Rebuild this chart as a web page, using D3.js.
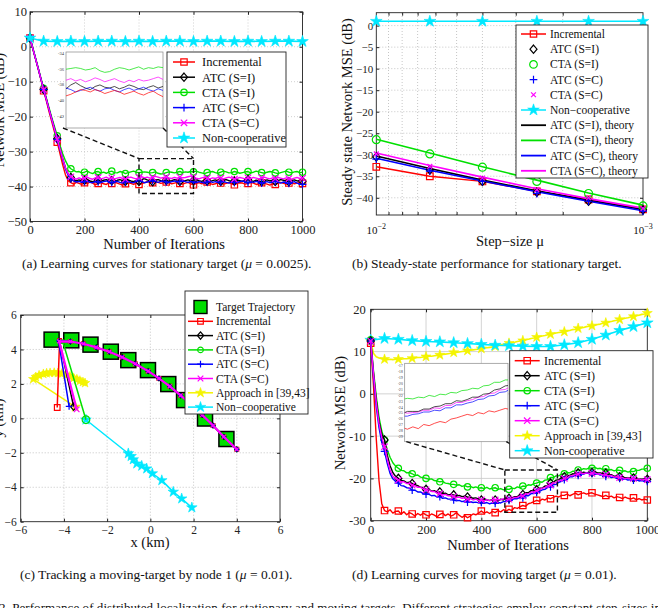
<!DOCTYPE html>
<html>
<head>
<meta charset="utf-8">
<script src="https://cdn.jsdelivr.net/npm/d3@7"></script>
<style>
  body { margin: 0; background: #fff; }
  svg { display: block; font-family: "Liberation Serif", "Times New Roman", serif; }
</style>
</head>
<body>
<svg id="fig" width="658" height="608"></svg>
<script>
// ---------- data: (a) learning curves, stationary target ----------
const iter10 = d3.range(0, 1001, 10);
const iter50 = d3.range(0, 1001, 50);

const incA = [2.5, -0.5, -3.4, -6.3, -9.4, -12.6, -15.5, -18.6, -21.5, -24.4,
  -27.3, -30.6, -33.8, -36.6, -38.3, -38.9, -39.3, -38.8, -39.1, -39.4,
  -38.9, -39.2, -38.7, -39.0, -39.5, -39.1, -38.8, -39.2, -39.4, -38.9,
  -39.1, -38.7, -39.0, -39.3, -39.6, -39.2, -38.9, -39.1, -39.4, -39.0,
  -39.4, -39.2, -38.9, -38.6, -38.7, -38.9, -38.6, -38.8, -39.1, -38.9,
  -38.7, -38.9, -39.2, -39.0, -38.8, -39.1, -39.3, -39.0, -38.8, -39.2,
  -39.5, -39.1, -38.9, -39.2, -39.0, -38.7, -39.1, -39.4, -39.2, -38.9,
  -39.0, -39.3, -39.1, -38.8, -39.2, -39.5, -39.1, -38.9, -39.0, -39.3,
  -39.1, -38.8, -39.0, -39.4, -39.2, -38.9, -39.1, -39.3, -39.6, -39.2,
  -39.4, -39.0, -38.8, -39.1, -39.3, -39.0, -38.9, -39.2, -39.0, -38.8,
  -39.1];
const ctaIA = [2.5, -0.3, -3.1, -6.0, -9.0, -11.9, -14.7, -17.5, -20.3, -22.9,
  -25.5, -28.2, -30.6, -32.6, -34.1, -34.9, -35.4, -35.8, -35.7, -36.1,
  -35.9, -35.6, -36.0, -36.3, -35.8, -35.7, -36.1, -35.9, -36.2, -35.8,
  -35.6, -36.0, -36.1, -35.7, -35.9, -36.3, -36.0, -35.8, -35.6, -35.9,
  -36.0, -35.9, -35.8, -35.9, -36.1, -36.0, -35.8, -36.2, -36.4, -36.3,
  -36.0, -35.8, -35.9, -36.1, -35.9, -35.7, -36.0, -35.8, -35.9, -35.7,
  -35.8, -35.6, -35.9, -36.1, -36.3, -36.0, -35.8, -35.7, -36.0, -36.2,
  -35.9, -35.6, -35.8, -36.1, -36.0, -35.7, -35.9, -36.2, -36.0, -35.8,
  -35.7, -36.1, -35.9, -35.6, -35.8, -36.0, -36.2, -35.9, -35.7, -35.8,
  -36.1, -36.3, -36.0, -35.8, -35.6, -35.9, -36.1, -35.8, -35.7, -36.0,
  -35.9];
const atcIA = [2.5, -0.4, -3.3, -6.2, -9.2, -12.2, -15.0, -17.9, -20.7, -23.5,
  -26.3, -29.2, -32.0, -34.6, -36.4, -37.4, -38.0, -38.4, -38.1, -38.5,
  -38.2, -38.0, -38.4, -38.6, -38.3, -38.1, -38.5, -38.2, -38.0, -38.4,
  -38.3, -38.6, -38.2, -38.0, -38.3, -38.5, -38.1, -38.4, -38.6, -38.2,
  -38.5, -38.0, -37.7, -38.1, -38.4, -38.6, -38.2, -38.0, -38.3, -38.4,
  -38.2, -38.5, -38.3, -38.0, -38.2, -38.5, -38.6, -38.3, -38.1, -38.4,
  -38.2, -38.0, -38.3, -38.5, -38.2, -38.4, -38.6, -38.3, -38.1, -38.4,
  -38.5, -38.2, -38.0, -38.3, -38.6, -38.4, -38.1, -38.3, -38.5, -38.2,
  -38.0, -38.3, -38.5, -38.2, -38.4, -38.6, -38.3, -38.1, -38.4, -38.2,
  -38.5, -38.3, -38.0, -38.2, -38.4, -38.6, -38.3, -38.1, -38.4, -38.3,
  -38.5];
const atcCA = [2.5, -0.4, -3.3, -6.2, -9.2, -12.2, -15.1, -18.0, -20.8, -23.6,
  -26.5, -29.4, -32.3, -34.9, -36.8, -37.8, -38.4, -38.7, -38.5, -38.8,
  -38.6, -38.4, -38.8, -38.9, -38.5, -38.7, -38.9, -38.6, -38.4, -38.7,
  -38.9, -38.6, -38.5, -38.8, -39.0, -38.7, -38.5, -38.8, -38.9, -38.6,
  -38.4, -38.6, -38.9, -38.7, -38.5, -38.3, -38.6, -38.8, -38.5, -38.4,
  -38.7, -38.9, -38.6, -38.4, -38.7, -38.5, -38.3, -38.6, -38.8, -38.5,
  -38.7, -38.9, -38.6, -38.8, -39.0, -38.7, -38.5, -38.8, -38.6, -38.9,
  -38.7, -38.5, -38.8, -39.0, -38.6, -38.8, -38.9, -38.6, -38.4, -38.7,
  -38.9, -38.6, -38.8, -38.5, -38.7, -39.0, -38.8, -38.6, -38.9, -38.7,
  -38.5, -38.8, -39.0, -38.7, -38.9, -39.1, -38.8, -38.6, -39.0, -39.3,
  -39.4];
const ctaCA = [2.5, -0.4, -3.3, -6.2, -9.2, -12.3, -15.1, -18.0, -20.8, -23.6,
  -26.4, -29.2, -32.0, -34.6, -36.3, -37.2, -37.6, -37.9, -37.5, -37.8,
  -37.6, -37.3, -37.7, -37.9, -37.5, -37.4, -37.8, -37.6, -37.3, -37.7,
  -37.5, -37.8, -37.6, -37.4, -37.7, -37.9, -37.5, -37.3, -37.6, -37.8,
  -37.4, -37.2, -37.5, -37.3, -37.6, -37.4, -37.1, -37.3, -37.6, -37.4,
  -37.2, -37.5, -37.7, -37.4, -37.6, -37.3, -37.5, -37.4, -37.2, -37.0,
  -37.3, -37.6, -37.8, -37.5, -37.3, -37.6, -37.8, -37.5, -37.7, -37.4,
  -37.6, -37.8, -37.5, -37.3, -37.6, -37.9, -37.7, -37.4, -37.6, -37.8,
  -37.5, -37.7, -37.4, -37.6, -37.8, -37.5, -37.3, -37.6, -37.8, -37.5,
  -37.7, -37.4, -37.6, -37.8, -37.5, -37.7, -37.9, -37.6, -37.4, -37.7,
  -37.6];
const noncA = [2.5, 1.6, 1.5, 1.6, 1.5, 1.6, 1.6, 1.5, 1.6, 1.5, 1.6,
  1.6, 1.5, 1.6, 1.6, 1.5, 1.6, 1.5, 1.6, 1.6, 1.5];

// ---------- data: (b) steady state vs step size ----------
const muB = [0.01, 0.0063, 0.004, 0.0025, 0.0016, 0.001];
const incB = [-32.8, -35.0, -36.2, -38.5, -40.4, -42.7];
const atcIB = [-30.5, -33.5, -36.2, -38.7, -40.8, -42.8];
const ctaIB = [-26.5, -29.8, -32.9, -36.2, -39.0, -41.9];
const atcCB = [-31.0, -33.8, -36.2, -39.0, -40.8, -43.1];
const ctaCB = [-29.8, -32.7, -35.4, -38.1, -40.0, -42.5];
const noncB = [1.0, 1.0, 1.0, 1.0, 1.0, 1.0];
const atcIT = [-30.3, -33.2, -35.9, -38.4, -40.6, -42.7];
const ctaIT = [-26.4, -29.6, -32.8, -35.9, -38.9, -41.7];
const atcCT = [-30.8, -33.6, -36.1, -38.6, -40.8, -43.0];
const ctaCT = [-29.6, -32.5, -35.2, -37.9, -40.2, -42.4];

// ---------- data: (c) tracking, node 1 ----------
const trajX = [-4.57, -3.66, -2.77, -1.83, -1.02, -0.11, 0.83, 1.56, 2.53, 3.52];
const trajY = [4.57, 4.53, 4.28, 3.87, 3.38, 2.80, 1.99, 1.06, -0.01, -1.20];
const trackX = [-3.7, -3.1, -2.5, -1.9, -1.3, -0.7, -0.1, 0.4, 0.9, 1.4, 1.9, 2.4, 2.9, 3.4, 4.0];
const trackY = [4.46, 4.33, 4.12, 3.87, 3.55, 3.17, 2.74, 2.32, 1.86, 1.33, 0.78, 0.20, -0.42, -1.07, -1.80];
const incStartX = [-4.31, -4.20], incStartY = [0.63, 4.52];
const atcIStartX = [-3.55, -4.20], atcIStartY = [0.68, 4.45];
const ctaIStartX = [-2.98, -4.05], ctaIStartY = [-0.08, 4.45];
const atcCStartX = [-3.76, -4.25], atcCStartY = [0.70, 4.50];
const ctaCStartX = [-3.41, -4.22], ctaCStartY = [0.52, 4.47];
const apprX = [-3.47, -5.42, -5.30, -5.15, -4.95, -4.80, -4.64, -4.45, -4.28, -4.10, -3.90, -3.72, -3.55, -3.40, -3.26, -3.12, -3.02];
const apprY = [0.67, 2.28, 2.40, 2.50, 2.58, 2.62, 2.64, 2.65, 2.63, 2.60, 2.52, 2.44, 2.35, 2.27, 2.19, 2.11, 2.05];
const noncCX = [-2.98, -1.02, -0.89, -0.79, -0.63, -0.40, -0.17, 0.09, 0.53, 1.06, 1.45, 1.92];
const noncCY = [-0.08, -2.04, -2.20, -2.39, -2.63, -2.76, -2.92, -3.20, -3.60, -4.27, -4.66, -5.18];

// ---------- data: (d) learning curves, moving target ----------
const incD = [12.0, 2.0, -10.5, -20.5, -26.0, -27.6, -27.9, -27.4, -28.2, -27.8,
  -27.7, -28.4, -27.9, -28.6, -28.1, -28.4, -28.9, -28.3, -28.7, -28.2,
  -28.6, -28.9, -28.4, -28.7, -29.1, -28.5, -28.2, -28.8, -28.4, -28.9,
  -28.6, -28.1, -28.7, -29.2, -28.8, -29.3, -28.9, -28.4, -28.6, -28.2,
  -27.7, -28.2, -27.9, -28.3, -27.8, -28.1, -27.6, -27.9, -27.4, -27.7,
  -27.3, -27.6, -26.9, -27.1, -26.7, -26.4, -26.6, -26.0, -25.8, -25.5,
  -25.2, -25.4, -24.9, -25.1, -24.6, -24.8, -24.5, -24.2, -24.4, -24.0,
  -24.0, -23.7, -24.1, -23.8, -23.5, -23.9, -23.6, -23.4, -23.7, -23.5,
  -23.4, -23.7, -23.9, -24.1, -24.3, -24.0, -24.4, -24.2, -24.6, -24.3,
  -24.5, -24.8, -24.4, -24.7, -24.9, -24.6, -25.0, -24.8, -25.1, -24.9,
  -25.1];
const ctaID = [12.8, 5.5, -0.5, -5.5, -8.8, -10.9, -13.2, -15.0, -16.3, -17.1,
  -17.6, -18.1, -18.2, -18.7, -18.6, -18.9, -19.3, -19.2, -19.7, -19.8,
  -20.0, -20.2, -20.1, -20.5, -20.6, -20.8, -20.7, -21.1, -21.2, -21.4,
  -21.4, -21.6, -21.5, -21.9, -21.7, -22.0, -21.9, -22.2, -22.0, -22.3,
  -22.2, -22.4, -22.1, -22.5, -22.3, -22.2, -22.6, -22.4, -22.7, -22.5,
  -22.6, -22.3, -22.4, -22.0, -22.2, -21.8, -21.9, -21.5, -21.6, -21.2,
  -21.1, -20.8, -20.9, -20.4, -20.3, -19.8, -19.8, -19.4, -19.4, -19.0,
  -18.9, -18.6, -18.7, -18.3, -18.3, -18.0, -18.0, -17.7, -17.8, -17.5,
  -17.6, -17.4, -17.7, -17.6, -17.9, -17.7, -18.0, -17.9, -18.2, -18.0,
  -18.1, -18.3, -18.2, -18.5, -18.3, -18.4, -18.1, -18.1, -17.8, -17.8,
  -17.6];
const atcID = [12.5, 5.0, -1.5, -6.5, -9.5, -10.9, -14.5, -17.0, -18.6, -19.5,
  -20.0, -20.5, -20.6, -21.0, -20.9, -21.2, -21.5, -21.7, -22.1, -22.2,
  -22.6, -22.6, -23.0, -22.9, -23.3, -23.2, -23.6, -23.5, -23.9, -23.8,
  -23.9, -24.2, -24.0, -24.3, -24.2, -24.4, -24.5, -24.7, -24.6, -24.9,
  -25.1, -24.8, -25.1, -25.2, -25.0, -25.1, -25.3, -24.9, -25.1, -24.7,
  -24.7, -24.7, -24.3, -24.3, -23.9, -23.8, -23.4, -23.4, -22.9, -23.0,
  -22.7, -22.3, -22.3, -21.8, -21.7, -21.1, -20.9, -20.4, -20.3, -19.8,
  -19.6, -19.3, -19.3, -18.9, -19.0, -18.7, -18.8, -18.5, -18.7, -18.5,
  -18.6, -18.4, -18.7, -18.7, -18.9, -18.8, -19.2, -19.1, -19.5, -19.4,
  -19.6, -19.6, -19.9, -19.8, -20.1, -19.9, -20.2, -20.1, -20.2, -20.1,
  -20.2];
const atcCD = [12.5, 4.0, -3.0, -8.0, -11.5, -13.6, -16.5, -18.8, -20.1, -20.7,
  -21.1, -21.7, -21.8, -22.2, -22.3, -22.8, -22.8, -23.2, -23.2, -23.6,
  -23.7, -23.7, -24.1, -24.0, -24.4, -24.3, -24.7, -24.6, -24.9, -24.9,
  -25.1, -25.3, -25.2, -25.5, -25.3, -25.6, -25.5, -25.7, -25.6, -25.8,
  -25.7, -25.9, -25.7, -26.0, -25.8, -25.9, -25.7, -25.8, -25.5, -25.5,
  -25.2, -25.1, -24.8, -24.8, -24.5, -24.6, -24.1, -24.1, -23.6, -23.6,
  -23.3, -23.1, -22.7, -22.6, -22.1, -22.0, -21.5, -21.4, -20.9, -20.7,
  -20.3, -20.1, -19.6, -19.6, -19.2, -19.3, -18.9, -19.0, -18.7, -18.9,
  -18.8, -19.0, -18.9, -19.2, -19.1, -19.5, -19.4, -19.8, -19.7, -20.0,
  -20.0, -20.2, -20.1, -20.4, -20.2, -20.4, -20.3, -20.6, -20.5, -20.7,
  -20.7];
const ctaCD = [12.5, 4.8, -2.0, -7.0, -10.3, -12.5, -15.5, -18.0, -19.5, -20.1,
  -20.4, -20.8, -20.8, -21.2, -21.2, -21.6, -21.7, -22.1, -22.1, -22.5,
  -22.7, -22.7, -23.1, -23.1, -23.5, -23.6, -23.9, -23.8, -24.1, -24.1,
  -24.3, -24.5, -24.4, -24.7, -24.6, -24.9, -24.8, -25.1, -24.9, -25.2,
  -25.1, -25.3, -25.0, -25.3, -25.0, -25.1, -25.0, -25.1, -24.8, -25.0,
  -24.9, -24.8, -24.5, -24.5, -24.1, -24.2, -23.7, -23.7, -23.2, -23.2,
  -22.9, -22.7, -22.3, -22.2, -21.7, -21.6, -21.1, -21.0, -20.5, -20.4,
  -20.0, -19.9, -19.4, -19.4, -19.0, -19.0, -18.7, -18.9, -18.7, -18.8,
  -18.8, -18.7, -19.0, -18.9, -19.2, -19.1, -19.4, -19.3, -19.7, -19.6,
  -19.8, -19.8, -20.1, -19.9, -20.2, -20.0, -20.3, -20.1, -20.4, -20.2,
  -20.3];
const apprD = [12.5, 9.6, 8.8, 8.5, 8.3, 8.2, 8.1, 8.2, 8.1, 8.2,
  8.2, 8.2, 8.3, 8.3, 8.4, 8.4, 8.5, 8.6, 8.6, 8.7,
  8.8, 8.9, 8.9, 9.0, 9.1, 9.2, 9.3, 9.4, 9.5, 9.6,
  9.8, 9.8, 9.9, 10.0, 10.1, 10.2, 10.3, 10.4, 10.5, 10.6,
  10.7, 10.8, 10.9, 11.0, 11.1, 11.2, 11.4, 11.6, 11.7, 11.9,
  12.0, 12.1, 12.2, 12.4, 12.5, 12.6, 12.8, 12.9, 13.1, 13.2,
  13.4, 13.5, 13.7, 13.8, 14.0, 14.1, 14.2, 14.4, 14.5, 14.6,
  14.7, 14.9, 15.0, 15.2, 15.3, 15.5, 15.6, 15.7, 15.9, 16.0,
  16.1, 16.2, 16.4, 16.5, 16.7, 16.8, 17.0, 17.1, 17.3, 17.4,
  17.6, 17.7, 17.9, 18.0, 18.2, 18.3, 18.5, 18.6, 18.8, 18.9,
  19.1];
const noncD = [12.7, 13.1, 12.9, 12.6, 12.4, 12.3, 12.1, 11.9, 11.7, 11.5, 11.4,
  11.3, 11.2, 11.2, 11.6, 12.1, 12.9, 13.9, 15.0, 15.9, 16.8];

// ---------- colours ----------
const cInc = "#ff0000", cAtcI = "#000000", cCtaI = "#00e000", cAtcC = "#0000ff",
      cCtaC = "#ff00ff", cNonc = "#00e8ff", cAppr = "#f4f400", cTarget = "#00dd00";

const svg = d3.select("#fig");
const FONT = "Liberation Serif, Times New Roman, serif";

function markerPath(type, s) {
  if (type == "square") return `M${-s},${-s}H${s}V${s}H${-s}Z`;
  if (type == "diamond") return `M0,${-s * 1.3}L${s * 1.1},0L0,${s * 1.3}L${-s * 1.1},0Z`;
  if (type == "circle") return `M${s},0A${s},${s} 0 1,1 ${-s},0A${s},${s} 0 1,1 ${s},0Z`;
  if (type == "plus") return `M${-s * 1.2},0H${s * 1.2}M0,${-s * 1.2}V${s * 1.2}`;
  if (type == "x") return `M${-s},${-s}L${s},${s}M${-s},${s}L${s},${-s}`;
  if (type == "star") return d3.symbol(d3.symbolStar, s * s * 2.4)();
  return "";
}

function drawMarker(g, type, px, py, color, s) {
  const filled = type == "star";
  g.append("path")
    .attr("transform", `translate(${px},${py})`)
    .attr("d", markerPath(type, s))
    .attr("fill", filled ? color : "none")
    .attr("stroke", color)
    .attr("stroke-width", filled ? 0.6 : 1.2);
}

function drawSeries(g, xs, ys, x, y, st) {
  const pts = xs.map((d, i) => [x(d), y(ys[i])]).filter((p, i) => ys[i] !== undefined);
  if (st.lw) {
    g.append("path")
      .attr("d", d3.line()(pts))
      .attr("fill", "none")
      .attr("stroke", st.color)
      .attr("stroke-width", st.lw)
      .attr("stroke-linejoin", "round");
  }
  if (st.marker) {
    pts.forEach((p, i) => {
      if (i % (st.every || 1) == 0) drawMarker(g, st.marker, p[0], p[1], st.color, st.ms);
    });
  }
}

// frame, grid, inward ticks, labels
function drawAxes(g, x, y, o) {
  const [x0, x1] = x.range(), [y0, y1] = y.range();
  g.append("g").selectAll("line").data(o.xGrid).join("line")
    .attr("x1", d => x(d)).attr("x2", d => x(d)).attr("y1", y0).attr("y2", y1)
    .attr("stroke", o.gridColor).attr("stroke-width", 0.8).attr("stroke-dasharray", o.gridDash);
  g.append("g").selectAll("line").data(o.yGrid).join("line")
    .attr("y1", d => y(d)).attr("y2", d => y(d)).attr("x1", x0).attr("x2", x1)
    .attr("stroke", o.gridColor).attr("stroke-width", 0.8).attr("stroke-dasharray", o.gridDash);

  const ax = [
    [d3.axisBottom(x).tickValues(o.xTicks).tickFormat(o.xFmt).tickPadding(o.xPad), y0],
    [d3.axisTop(x).tickValues(o.xTicks).tickFormat(""), y1]
  ];
  ax.forEach(a => {
    g.append("g").attr("transform", `translate(0,${a[1]})`)
      .call(a[0].tickSize(-3))
      .attr("font-family", FONT).attr("font-size", o.fs).attr("color", "#222")
      .call(s => s.select(".domain").remove());
  });
  const ay = [
    [d3.axisLeft(y).tickValues(o.yTicks).tickFormat(o.yFmt).tickPadding(o.yPad), x0],
    [d3.axisRight(y).tickValues(o.yTicks).tickFormat(""), x1]
  ];
  ay.forEach(a => {
    g.append("g").attr("transform", `translate(${a[1]},0)`)
      .call(a[0].tickSize(-3))
      .attr("font-family", FONT).attr("font-size", o.fs).attr("color", "#222")
      .call(s => s.select(".domain").remove());
  });
  g.append("rect")
    .attr("x", x0).attr("y", y1).attr("width", x1 - x0).attr("height", y0 - y1)
    .attr("fill", "none").attr("stroke", "#222").attr("stroke-width", 0.9);
}

function axisTitle(g, txt, px, py, rot, fs) {
  g.append("text")
    .attr("transform", `translate(${px},${py}) rotate(${rot})`)
    .attr("text-anchor", "middle")
    .attr("font-size", fs)
    .attr("fill", "#111")
    .text(txt);
}

function legend(g, box, entries, o) {
  g.append("rect")
    .attr("x", box[0]).attr("y", box[1]).attr("width", box[2] - box[0]).attr("height", box[3] - box[1])
    .attr("fill", "#fff").attr("stroke", "#222").attr("stroke-width", 0.9);
  entries.forEach((e, i) => {
    const cy = o.y0 + i * o.dy;
    if (e.line) {
      g.append("line").attr("x1", o.l0).attr("x2", o.l1).attr("y1", cy).attr("y2", cy)
        .attr("stroke", e.color).attr("stroke-width", e.lw || 1.5);
    }
    if (e.marker == "target") {
      g.append("rect").attr("x", (o.l0 + o.l1) / 2 - 6.5).attr("y", cy - 6.5)
        .attr("width", 13).attr("height", 13).attr("fill", cTarget).attr("stroke", "#000").attr("stroke-width", 1.4);
    } else if (e.marker) {
      drawMarker(g, e.marker, (o.l0 + o.l1) / 2, cy, e.color, e.ms || o.ms);
    }
    g.append("text").attr("x", o.tx).attr("y", cy).attr("dy", "0.35em")
      .attr("font-size", o.fs).attr("fill", "#111").text(e.name);
  });
}

// ================= panel (a) =================
const gA = svg.append("g");
const xA = d3.scaleLinear([0, 1000], [30, 302.5]);
const yA = d3.scaleLinear([-50, 10], [221.5, 11.8]);
drawAxes(gA, xA, yA, {
  xTicks: d3.range(0, 1001, 200), yTicks: d3.range(-50, 11, 10),
  xGrid: [200, 400, 600, 800], yGrid: [-40, -30, -20, -10, 0],
  gridColor: "#c4c4c4", gridDash: "1,2", fs: 12.5, xPad: 4, yPad: 3,
  xFmt: d3.format("d"), yFmt: d3.format("d")
});
const stylesA = [
  [incA, cInc, "square"], [ctaIA, cCtaI, "circle"], [atcIA, cAtcI, "diamond"],
  [atcCA, cAtcC, "plus"], [ctaCA, cCtaC, "x"]
];
stylesA.forEach(s => drawSeries(gA, iter10, s[0], xA, yA, { color: s[1], lw: 1.4, marker: s[2], every: 5, ms: 3.2 }));
drawSeries(gA, iter50, noncA, xA, yA, { color: cNonc, lw: 1.6, marker: "star", every: 1, ms: 4.2 });

// inset (a)
const insA = { x0: 66, x1: 163, y0: 128, y1: 52 };
const ixA = d3.scaleLinear([400, 600], [insA.x0, insA.x1]);
const iyA = d3.scaleLinear([-43.5, -33.8], [insA.y0, insA.y1]);
gA.append("rect").attr("x", insA.x0).attr("y", insA.y1).attr("width", insA.x1 - insA.x0)
  .attr("height", insA.y0 - insA.y1).attr("fill", "#fff").attr("stroke", "#888").attr("stroke-width", 0.7);
gA.append("clipPath").attr("id", "clipA").append("rect")
  .attr("x", insA.x0).attr("y", insA.y1).attr("width", insA.x1 - insA.x0).attr("height", insA.y0 - insA.y1);
const inA = gA.append("g").attr("clip-path", "url(#clipA)");
[[ctaIA, cCtaI], [ctaCA, cCtaC], [atcIA, cAtcI], [atcCA, cAtcC], [incA, cInc]].forEach(s => {
  drawSeries(inA, iter10.slice(38, 63), s[0].slice(38, 63), ixA, iyA, { color: s[1], lw: 0.7 });
});
gA.append("g").selectAll("text").data([-34, -36, -38, -40, -42]).join("text")
  .attr("x", insA.x0 - 2).attr("y", d => iyA(d)).attr("dy", "0.35em").attr("text-anchor", "end")
  .attr("font-size", 4.5).attr("fill", "#333").text(d => d);
// zoom box + connectors
gA.append("rect").attr("x", xA(400)).attr("y", yA(-32)).attr("width", xA(600) - xA(400))
  .attr("height", yA(-42) - yA(-32)).attr("fill", "none").attr("stroke", "#111")
  .attr("stroke-width", 1.4).attr("stroke-dasharray", "5,3");
[[insA.x0 - 3, xA(400)], [insA.x1, xA(600)]].forEach(c => {
  gA.append("line").attr("x1", c[0]).attr("y1", insA.y0).attr("x2", c[1]).attr("y2", yA(-32))
    .attr("stroke", "#111").attr("stroke-width", 1.4).attr("stroke-dasharray", "5,3");
});
legend(gA, [167, 52, 286, 147], [
  { name: "Incremental", color: cInc, line: true, marker: "square" },
  { name: "ATC (S=I)", color: cAtcI, line: true, marker: "diamond" },
  { name: "CTA (S=I)", color: cCtaI, line: true, marker: "circle" },
  { name: "ATC (S=C)", color: cAtcC, line: true, marker: "plus" },
  { name: "CTA (S=C)", color: cCtaC, line: true, marker: "x" },
  { name: "Non-cooperative", color: cNonc, line: true, marker: "star", ms: 4.2 }
], { y0: 62, dy: 15.2, l0: 173, l1: 195, tx: 202, fs: 12.5, ms: 3.2 });
axisTitle(gA, "Number of Iterations", 164, 249, 0, 14.5);
axisTitle(gA, "Network MSE (dB)", 4, 110, -90, 14.5);

// ================= panel (b) =================
const gB = svg.append("g");
const xB = d3.scaleLog([0.01, 0.001], [376.3, 643]);
const yB = d3.scaleLinear([-44, 3], [215, 12.7]);
const minorB = [0.009, 0.008, 0.007, 0.006, 0.005, 0.004, 0.003, 0.002];
drawAxes(gB, xB, yB, {
  xTicks: minorB, yTicks: d3.range(-40, 1, 5),
  xGrid: minorB, yGrid: d3.range(-40, 1, 5),
  gridColor: "#b8b8b8", gridDash: "1,2", fs: 11, xPad: 4, yPad: 3,
  xFmt: () => "", yFmt: d3.format("d")
});
// major ticks + labels 10^-2, 10^-3
[[0.01, "\u22122"], [0.001, "\u22123"]].forEach(t => {
  const tx = gB.append("text").attr("x", xB(t[0])).attr("y", 234)
    .attr("text-anchor", "middle").attr("font-size", 11).attr("fill", "#111");
  tx.append("tspan").text("10");
  tx.append("tspan").attr("dy", -5).attr("font-size", 8).text(t[1]);
});
drawSeries(gB, muB, incB, xB, yB, { color: cInc, lw: 1.4, marker: "square", ms: 3.3 });
drawSeries(gB, muB, atcIT, xB, yB, { color: cAtcI, lw: 1.6 });
drawSeries(gB, muB, ctaIT, xB, yB, { color: cCtaI, lw: 1.6 });
drawSeries(gB, muB, atcCT, xB, yB, { color: cAtcC, lw: 1.6 });
drawSeries(gB, muB, ctaCT, xB, yB, { color: cCtaC, lw: 1.6 });
drawSeries(gB, muB, atcIB, xB, yB, { color: cAtcI, marker: "diamond", ms: 3.2 });
drawSeries(gB, muB, ctaIB, xB, yB, { color: cCtaI, marker: "circle", ms: 4 });
drawSeries(gB, muB, atcCB, xB, yB, { color: cAtcC, marker: "plus", ms: 3.3 });
drawSeries(gB, muB, ctaCB, xB, yB, { color: cCtaC, marker: "x", ms: 2.4 });
drawSeries(gB, muB, noncB, xB, yB, { color: cNonc, lw: 1.6, marker: "star", ms: 4.2 });
legend(gB, [516, 25, 648, 178], [
  { name: "Incremental", color: cInc, line: true, marker: "square" },
  { name: "ATC (S=I)", color: cAtcI, marker: "diamond" },
  { name: "CTA (S=I)", color: cCtaI, marker: "circle", ms: 3.8 },
  { name: "ATC (S=C)", color: cAtcC, marker: "plus" },
  { name: "CTA (S=C)", color: cCtaC, marker: "x", ms: 2.4 },
  { name: "Non\u2212cooperative", color: cNonc, line: true, marker: "star", ms: 4.2 },
  { name: "ATC (S=I), theory", color: cAtcI, line: true, lw: 1.8 },
  { name: "CTA (S=I), theory", color: cCtaI, line: true, lw: 1.8 },
  { name: "ATC (S=C), theory", color: cAtcC, line: true, lw: 1.8 },
  { name: "CTA (S=C), theory", color: cCtaC, line: true, lw: 1.8 }
], { y0: 34, dy: 15.2, l0: 521, l1: 546, tx: 550, fs: 11.5, ms: 3.2 });
axisTitle(gB, "Step\u2212size \u03bc", 510, 246, 0, 14.5);
axisTitle(gB, "Steady state Network MSE (dB)", 352, 112, -90, 14.5);

// ================= panel (c) =================
const gC = svg.append("g");
const xC = d3.scaleLinear([-6, 6], [20.7, 280]);
const yC = d3.scaleLinear([-6, 6], [521.7, 315]);
drawAxes(gC, xC, yC, {
  xTicks: d3.range(-6, 7, 2), yTicks: d3.range(-6, 7, 2),
  xGrid: [-4, -2, 0, 2, 4], yGrid: [-4, -2, 0, 2, 4],
  gridColor: "#b8b8b8", gridDash: "1,2", fs: 11.5, xPad: 4, yPad: 4,
  xFmt: d3.format("d"), yFmt: d3.format("d")
});
// target trajectory
trajX.forEach((d, i) => {
  gC.append("rect").attr("x", xC(d) - 7.5).attr("y", yC(trajY[i]) - 7.5)
    .attr("width", 15).attr("height", 15).attr("fill", cTarget).attr("stroke", "#000").attr("stroke-width", 1.5);
});
drawSeries(gC, noncCX, noncCY, xC, yC, { color: cNonc, lw: 1.5, marker: "star", ms: 3.8 });
drawSeries(gC, apprX, apprY, xC, yC, { color: cAppr, lw: 1.4 });
drawSeries(gC, apprX.slice(1), apprY.slice(1), xC, yC, { color: cAppr, lw: 5.5, marker: "star", ms: 3.4 });
drawMarker(gC, "star", xC(apprX[0]), yC(apprY[0]), cAppr, 3.8);
const estC = [
  [incStartX, incStartY, cInc, "square"],
  [ctaIStartX, ctaIStartY, cCtaI, "circle"],
  [atcIStartX, atcIStartY, cAtcI, "diamond"],
  [atcCStartX, atcCStartY, cAtcC, "plus"],
  [ctaCStartX, ctaCStartY, cCtaC, "x"]
];
estC.forEach(s => {
  const xs = s[0].concat(trackX), ys = s[1].concat(trackY);
  drawSeries(gC, xs, ys, xC, yC, { color: s[2], lw: s[2] == cCtaC ? 2.2 : 1.5 });
  drawMarker(gC, s[3], xC(xs[0]), yC(ys[0]), s[2], s[3] == "circle" ? 3.8 : 2.8);
  xs.slice(1).forEach((d, i) => drawMarker(gC, s[3], xC(d), yC(ys[i + 1]), s[2], 1.9));
});
legend(gC, [185, 291, 308, 414], [
  { name: "Target Trajectory", marker: "target" },
  { name: "Incremental", color: cInc, line: true, marker: "square" },
  { name: "ATC (S=I)", color: cAtcI, line: true, marker: "diamond" },
  { name: "CTA (S=I)", color: cCtaI, line: true, marker: "circle" },
  { name: "ATC (S=C)", color: cAtcC, line: true, marker: "plus" },
  { name: "CTA (S=C)", color: cCtaC, line: true, marker: "x" },
  { name: "Approach in [39,43]", color: cAppr, line: true, marker: "star", ms: 3.6 },
  { name: "Non\u2212cooperative", color: cNonc, line: true, marker: "star", ms: 3.8 }
], { y0: 307, dy: 14.3, l0: 188, l1: 213, tx: 216, fs: 11.5, ms: 2.8 });
axisTitle(gC, "x (km)", 150, 547, 0, 14.5);
axisTitle(gC, "y (km)", 3, 418, -90, 14.5);

// ================= panel (d) =================
const gD = svg.append("g");
const xD = d3.scaleLinear([0, 1000], [370.7, 647.3]);
const yD = d3.scaleLinear([-30, 20], [520.7, 309.3]);
drawAxes(gD, xD, yD, {
  xTicks: d3.range(0, 1001, 200), yTicks: d3.range(-30, 21, 10),
  xGrid: [200, 400, 600, 800], yGrid: [-20, -10, 0, 10],
  gridColor: "#c8c8c8", gridDash: null, fs: 12.5, xPad: 4, yPad: 5,
  xFmt: d => String(d), yFmt: d => String(d)
});
drawSeries(gD, iter10, apprD, xD, yD, { color: cAppr, lw: 1.6, marker: "star", every: 5, ms: 3.6 });
drawSeries(gD, iter50, noncD, xD, yD, { color: cNonc, lw: 1.6, marker: "star", every: 1, ms: 4.2 });
const stylesD = [
  [incD, cInc, "square"], [ctaID, cCtaI, "circle"], [atcID, cAtcI, "diamond"],
  [atcCD, cAtcC, "plus"], [ctaCD, cCtaC, "x"]
];
stylesD.forEach(s => drawSeries(gD, iter10, s[0], xD, yD, { color: s[1], lw: 1.4, marker: s[2], every: 5, ms: 3.2 }));

// inset (d)
const insD = { x0: 404.7, x1: 508, y0: 441.7, y1: 363.3 };
const ixD = d3.scaleLinear([485, 675], [insD.x0, insD.x1]);
const iyD = d3.scaleLinear([-29.8, -16.6], [insD.y0, insD.y1]);
gD.append("rect").attr("x", insD.x0).attr("y", insD.y1).attr("width", insD.x1 - insD.x0)
  .attr("height", insD.y0 - insD.y1).attr("fill", "#fff").attr("stroke", "#888").attr("stroke-width", 0.7);
gD.append("clipPath").attr("id", "clipD").append("rect")
  .attr("x", insD.x0).attr("y", insD.y1).attr("width", insD.x1 - insD.x0).attr("height", insD.y0 - insD.y1);
const inD = gD.append("g").attr("clip-path", "url(#clipD)");
[[ctaID, cCtaI], [ctaCD, cCtaC], [atcID, cAtcI], [atcCD, cAtcC], [incD, cInc]].forEach(s => {
  drawSeries(inD, iter10.slice(47, 69), s[0].slice(47, 69), ixD, iyD, { color: s[1], lw: 0.7 });
});
gD.append("g").selectAll("text").data(d3.range(-29, -16, 1)).join("text")
  .attr("x", insD.x0 - 2).attr("y", d => iyD(d)).attr("dy", "0.35em").attr("text-anchor", "end")
  .attr("font-size", 3.6).attr("fill", "#333").text(d => d);
gD.append("rect").attr("x", xD(485)).attr("y", yD(-18)).attr("width", xD(675) - xD(485))
  .attr("height", yD(-28) - yD(-18)).attr("fill", "none").attr("stroke", "#111")
  .attr("stroke-width", 1.4).attr("stroke-dasharray", "5,3");
[[insD.x0 + 1.6, xD(485)], [insD.x1 - 1.7, xD(675)]].forEach(c => {
  gD.append("line").attr("x1", c[0]).attr("y1", insD.y0).attr("x2", c[1]).attr("y2", yD(-18))
    .attr("stroke", "#111").attr("stroke-width", 1.4).attr("stroke-dasharray", "5,3");
});
legend(gD, [509.7, 350.7, 653, 458], [
  { name: "Incremental", color: cInc, line: true, marker: "square" },
  { name: "ATC (S=I)", color: cAtcI, line: true, marker: "diamond" },
  { name: "CTA (S=I)", color: cCtaI, line: true, marker: "circle" },
  { name: "ATC (S=C)", color: cAtcC, line: true, marker: "plus" },
  { name: "CTA (S=C)", color: cCtaC, line: true, marker: "x" },
  { name: "Approach in [39,43]", color: cAppr, line: true, marker: "star", ms: 3.6 },
  { name: "Non-cooperative", color: cNonc, line: true, marker: "star", ms: 4.2 }
], { y0: 360.7, dy: 15, l0: 514.7, l1: 539.7, tx: 544, fs: 12, ms: 3.2 });
axisTitle(gD, "Number of Iterations", 508, 550, 0, 14.5);
axisTitle(gD, "Network MSE (dB)", 345, 413, -90, 14.5);

// ================= captions =================
function caption(x, y, pre, post) {
  const t = svg.append("text").attr("x", x).attr("y", y).attr("font-size", 13.5).attr("fill", "#111");
  t.append("tspan").text(pre);
  if (post !== undefined) {
    t.append("tspan").attr("font-style", "italic").text("\u03bc");
    t.append("tspan").text(post);
  }
}
caption(22, 268, "(a) Learning curves for stationary target (", " = 0.0025).");
caption(352, 268, "(b) Steady-state performance for stationary target.");
caption(20, 579, "(c) Tracking a moving-target by node 1 (", " = 0.01).");
caption(352, 579, "(d) Learning curves for moving target (", " = 0.01).");
svg.append("text").attr("x", -1).attr("y", 612).attr("font-size", 13).attr("fill", "#111")
  .attr("textLength", 662).attr("lengthAdjust", "spacing")
  .text("2.  Performance of distributed localization for stationary and moving targets. Different strategies employ constant step-sizes in");
</script>
</body>
</html>
